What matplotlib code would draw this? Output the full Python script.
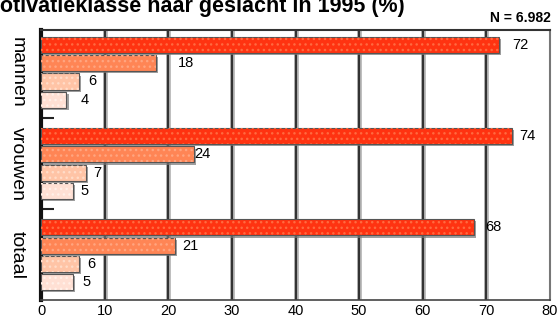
import numpy as np
import matplotlib.pyplot as plt
import matplotlib.patheffects as pe

plt.rcParams['font.family'] = ['Liberation Sans', 'DejaVu Sans']

groups = ["mannen", "vrouwen", "totaal"]
# four motivation classes per group, top to bottom
mannen = [72, 18, 6, 4]
vrouwen = [74, 24, 7, 5]
totaal = [68, 21, 6, 5]
# label offsets (pixels right of bar end), as in the original
label_pad = [[13, 22, 9, 14], [7, 1, 8, 8], [12, 8, 8, 10]]
colors = ['#ff3311', '#ff8555', '#ffc4a6', '#ffe0d4']
dots = ['#ff6a40', '#ffa580', '#ffdcc8', '#fff0e8']
n_text = "N = 6.982"
title = "Motivatieklasse naar geslacht in 1995 (%)"

data = [mannen, vrouwen, totaal]

fig = plt.figure(figsize=(5.58, 3.19), dpi=100)
ax = fig.add_axes([41/558, 1 - 299.5/319, 509/558, 270/319])

shadow = [pe.SimplePatchShadow(offset=(1.5, -1.5), shadow_rgbFace='#777777', alpha=0.7), pe.Normal()]

for g, vals in enumerate(data):
    ys = np.arange(4) + g * 5
    for k in range(4):
        b = ax.barh(ys[k], vals[k], height=0.88, color=colors[k], edgecolor='#555555',
                    linewidth=0.8, zorder=3)
        b[0].set_path_effects(shadow)
        ax.barh(ys[k], vals[k], height=0.88, color='none', edgecolor=dots[k],
                hatch='...', linewidth=0, zorder=3.5)
        ax.annotate(str(vals[k]), (vals[k], ys[k]), xytext=(label_pad[g][k] * 0.72, 0),
                    textcoords='offset points', ha='left', va='center', fontsize=10.5, zorder=5)

ax.set_xlim(0, 80)
ax.set_ylim(13.95, -0.85)
ax.set_xticks(range(0, 81, 10))
ax.tick_params(axis='x', length=0, labelsize=10.5, pad=3)

ax.set_yticks([4, 9])
ax.set_yticklabels([])
ax.tick_params(axis='y', which='major', direction='in', length=9, width=1.5, color='#222222')
ax.set_yticks([1.5, 6.5, 11.5], minor=True)
ax.set_yticklabels(groups, minor=True, rotation=270, fontsize=14, va='center')
ax.tick_params(axis='y', which='minor', length=0, pad=11)

for x in range(10, 80, 10):
    ax.axvline(x, color='#bbbbbb', lw=3.5, zorder=1)
    ax.axvline(x, color='#333333', lw=1.6, zorder=1.5)

ax.spines['left'].set_linewidth(3)
ax.spines['left'].set_color('#111111')
ax.spines['top'].set_linewidth(1.5)
ax.spines['top'].set_color('#333333')
ax.spines['right'].set_linewidth(1.5)
ax.spines['right'].set_color('#777777')
ax.spines['bottom'].set_linewidth(1.2)
ax.spines['bottom'].set_color('#444444')

fig.text(405/558, 1 - 12/319, title, ha='right', va='baseline', fontsize=15.5, weight='bold')
fig.text(551/558, 1 - 22.5/319, n_text, ha='right', va='baseline', fontsize=10, weight='bold')

fig.savefig('out.png', dpi=100)
